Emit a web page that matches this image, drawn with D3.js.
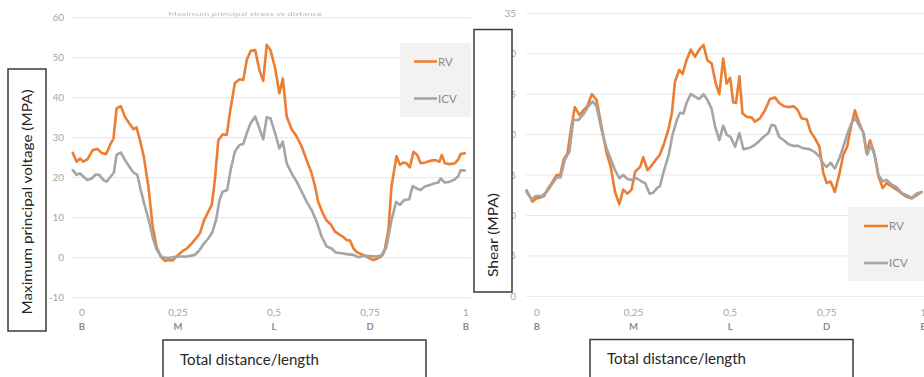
<!DOCTYPE html>
<html><head><meta charset="utf-8">
<script src="https://cdn.jsdelivr.net/npm/d3@7"></script>
<style>body{margin:0;background:#fff}svg{display:block}</style>
</head><body>
<script>
// ---------- data ----------
const xTickValues = [0, 0.25, 0.5, 0.75, 1];
const xTickNumbers = ["0", "0,25", "0,5", "0,75", "1"];
const xTickLetters = ["B", "M", "L", "D", "B"];
const leftYTicks = [-10, 0, 10, 20, 30, 40, 50, 60];
const rightYTicks = [0, 5, 10, 15, 20, 25, 30, 35];
const seriesNames = ["RV", "ICV"];

const leftRV = [[-0.024,26.2],[-0.014,24],[-0.005,24.8],[0.003,24],[0.014,24.6],[0.028,26.9],[0.040,27.2],[0.051,26.2],[0.063,25.9],[0.073,28.2],[0.082,29.8],[0.090,37.3],[0.101,37.9],[0.112,35.2],[0.123,33.6],[0.134,32.1],[0.142,32.6],[0.151,29.4],[0.161,25.2],[0.173,17.7],[0.184,7.8],[0.194,2.8],[0.205,0.3],[0.216,-0.8],[0.225,-0.6],[0.236,-0.7],[0.247,0.4],[0.260,1.5],[0.273,2.3],[0.286,3.6],[0.299,5.1],[0.307,6.1],[0.318,9.4],[0.329,11.5],[0.338,13.2],[0.346,19.4],[0.355,29.4],[0.366,30.8],[0.377,30.7],[0.385,36.1],[0.398,43.6],[0.410,44.6],[0.420,44.4],[0.429,49.4],[0.439,51.7],[0.451,51.9],[0.462,46.9],[0.472,44.2],[0.481,53.2],[0.491,51.9],[0.503,47.3],[0.514,41.1],[0.523,44.8],[0.533,35.3],[0.546,32.1],[0.559,30.3],[0.572,27.8],[0.585,24.4],[0.598,21.1],[0.607,17.8],[0.615,14],[0.627,11.1],[0.637,9.3],[0.648,8.3],[0.659,6.5],[0.672,5.7],[0.682,5.1],[0.689,4.4],[0.698,4.3],[0.707,2.3],[0.717,1.3],[0.728,0.9],[0.741,0.3],[0.750,-0.2],[0.759,-0.6],[0.769,-0.2],[0.780,0.4],[0.789,2.3],[0.798,6.9],[0.806,17.8],[0.819,25.4],[0.828,23.2],[0.837,23.8],[0.845,23.6],[0.854,22.6],[0.863,26.5],[0.873,25.7],[0.882,23.6],[0.893,23.8],[0.906,24.2],[0.919,24.4],[0.931,24],[0.937,25.7],[0.945,23.6],[0.958,23.4],[0.971,23.6],[0.980,24.6],[0.986,25.9],[0.997,26.1]];

const leftICV = [[-0.024,21.9],[-0.014,20.7],[-0.005,21.1],[0.003,20.3],[0.014,19.4],[0.025,19.8],[0.036,20.8],[0.045,20.7],[0.056,19.4],[0.064,19],[0.075,20.3],[0.083,21.3],[0.090,25.7],[0.101,26.3],[0.112,24.4],[0.123,22.8],[0.134,21.3],[0.144,20.7],[0.153,16.9],[0.164,12.8],[0.174,9.4],[0.184,5.1],[0.194,2.1],[0.205,0.4],[0.216,0],[0.229,0],[0.247,0.3],[0.273,0.3],[0.294,0.7],[0.306,1.9],[0.318,3.6],[0.329,4.8],[0.340,6.5],[0.349,9.4],[0.358,14.4],[0.366,16.5],[0.378,16.9],[0.387,21.9],[0.398,26.5],[0.410,28.2],[0.420,28.4],[0.429,31.1],[0.439,33.6],[0.451,35.3],[0.462,32.3],[0.472,29.6],[0.481,35.1],[0.491,34.8],[0.503,31.1],[0.514,27.3],[0.523,29],[0.533,23.6],[0.546,21.1],[0.559,19],[0.572,16.5],[0.585,14],[0.598,11.9],[0.611,9],[0.624,5.3],[0.637,2.8],[0.650,2.3],[0.661,1.3],[0.676,1.1],[0.689,0.9],[0.707,0.7],[0.720,0.1],[0.733,0.5],[0.750,0.4],[0.767,0.3],[0.783,0.7],[0.793,2.8],[0.806,9.4],[0.818,14],[0.828,13.2],[0.839,14.4],[0.852,14.6],[0.861,17.9],[0.872,17.3],[0.882,16.9],[0.893,17.8],[0.906,18.2],[0.919,18.6],[0.928,18.8],[0.934,19.8],[0.945,18.8],[0.958,19],[0.971,19.6],[0.980,20.4],[0.986,21.9],[0.997,21.8]];

const rightRV = [[-0.027,13.1],[-0.018,12.3],[-0.012,11.7],[-0.003,12.1],[0.008,12.2],[0.018,12.4],[0.027,13.2],[0.038,14],[0.051,15],[0.060,15],[0.069,16.9],[0.079,17.7],[0.087,20.4],[0.098,23.4],[0.110,22.4],[0.120,23],[0.130,23.5],[0.142,25],[0.154,24.3],[0.167,21],[0.180,17.7],[0.191,16],[0.202,12.9],[0.213,11.4],[0.223,13.2],[0.234,12.7],[0.245,13.2],[0.254,15.4],[0.267,16],[0.275,17.2],[0.286,15.6],[0.297,16.2],[0.308,16.9],[0.318,17.5],[0.329,18.9],[0.340,20.6],[0.349,22.6],[0.357,26.5],[0.368,28],[0.377,27.5],[0.387,29.2],[0.398,30.5],[0.409,29.6],[0.420,30.5],[0.431,31.1],[0.441,29.2],[0.452,28.8],[0.463,26.3],[0.472,25],[0.482,29.4],[0.491,26.3],[0.500,27],[0.508,24],[0.515,23.9],[0.524,27.2],[0.532,22.6],[0.543,22.2],[0.556,22.1],[0.564,21.6],[0.577,22],[0.590,23],[0.603,24.4],[0.616,24.6],[0.627,23.9],[0.639,23.5],[0.651,23.4],[0.664,23.5],[0.674,23.1],[0.685,22],[0.698,21.9],[0.708,20.4],[0.720,19.5],[0.731,18.5],[0.741,15.3],[0.750,14],[0.760,14.2],[0.771,12.9],[0.783,15.2],[0.793,17.5],[0.803,18.5],[0.812,20.8],[0.823,23],[0.834,21.4],[0.845,20.2],[0.853,17.7],[0.862,19.3],[0.872,17.9],[0.884,14.8],[0.895,13.4],[0.905,14],[0.918,13.6],[0.931,13.2],[0.944,12.7],[0.957,12.3],[0.970,12.1],[0.983,12.5],[0.996,12.9]];

const rightICV = [[-0.027,12.9],[-0.014,12],[-0.003,12.4],[0.012,12.4],[0.025,12.9],[0.038,13.8],[0.051,14.7],[0.061,14.7],[0.072,16.9],[0.084,17.9],[0.094,21.8],[0.107,21.8],[0.120,22.5],[0.133,23.5],[0.144,24.1],[0.154,23.5],[0.167,20.6],[0.180,18.3],[0.193,16.7],[0.202,15.6],[0.213,14.6],[0.223,15],[0.234,14.5],[0.245,14.4],[0.258,14.6],[0.271,14.2],[0.280,14],[0.291,12.7],[0.301,12.8],[0.311,13.4],[0.318,13.6],[0.329,15.6],[0.340,17.3],[0.351,20],[0.362,21.8],[0.370,22.7],[0.379,22.6],[0.387,23.9],[0.398,25],[0.409,24.7],[0.420,24.4],[0.431,25],[0.441,24.3],[0.452,23.2],[0.461,21],[0.472,19.3],[0.482,21.1],[0.491,20],[0.501,19.7],[0.513,18.5],[0.524,20.2],[0.534,18.2],[0.547,18.3],[0.560,18.6],[0.573,19.1],[0.586,19.7],[0.599,20.2],[0.607,21.2],[0.616,21.1],[0.627,19.7],[0.639,19.3],[0.651,18.8],[0.664,18.6],[0.676,18.6],[0.689,18.3],[0.705,18.2],[0.717,17.9],[0.731,17.3],[0.741,16.4],[0.750,16],[0.760,16.5],[0.771,15.8],[0.783,17.1],[0.793,18.5],[0.803,20],[0.812,21.2],[0.823,22.1],[0.834,21.1],[0.845,20.2],[0.855,17.5],[0.864,18.7],[0.875,17.3],[0.884,15],[0.895,14.2],[0.905,14.4],[0.918,13.8],[0.931,13.5],[0.944,12.8],[0.957,12.5],[0.970,12.2],[0.983,12.7],[0.996,12.9]];

// ---------- drawing ----------
const W = 924, H = 377;
const COLORS = {RV: "#ED7D31", ICV: "#A5A5A5"};
const FONT = "Lato, 'Open Sans', sans-serif";

const svg = d3.select("body").append("svg").attr("width", W).attr("height", H)
  .style("font-family", FONT);
svg.append("rect").attr("width", W).attr("height", H).attr("fill", "#fff");
svg.append("defs").append("filter").attr("id", "soft")
  .append("feGaussianBlur").attr("stdDeviation", 0.7);

function drawChart(cfg) {
  const g = svg.append("g");
  const x = d3.scaleLinear().domain([0, 1]).range(cfg.xRange);
  const y = d3.scaleLinear().domain(cfg.yDomain).range(cfg.yRange);

  // gridlines
  g.append("g").selectAll("line").data(cfg.yTicks).join("line")
    .attr("x1", cfg.gridX[0]).attr("x2", cfg.gridX[1])
    .attr("y1", d => y(d)).attr("y2", d => y(d))
    .attr("stroke", "#e6e6e6").attr("stroke-width", 1);

  // y tick labels
  g.append("g").selectAll("text").data(cfg.yTicks).join("text")
    .attr("x", cfg.yLabelX).attr("y", d => y(d)).attr("dy", "0.35em")
    .attr("text-anchor", "end").attr("font-size", 10).attr("fill", "#a6a6a6")
    .text(d => d);

  // x tick labels
  g.append("g").selectAll("text").data(xTickValues).join("text")
    .attr("x", d => x(d)).attr("y", 316)
    .attr("text-anchor", "middle").attr("font-size", 10).attr("fill", "#a6a6a6")
    .text((d, i) => xTickNumbers[i]);
  g.append("g").selectAll("text").data(xTickValues).join("text")
    .attr("x", d => x(d)).attr("y", 330)
    .attr("text-anchor", "middle").attr("font-size", 9.5).attr("font-weight", "bold")
    .attr("fill", "#8c8c8c")
    .text((d, i) => xTickLetters[i]);

  // lines
  const line = d3.line().x(d => x(d[0])).y(d => y(d[1]));
  [["RV", cfg.rv], ["ICV", cfg.icv]].forEach(([name, data]) => {
    g.append("path").datum(data).attr("d", line)
      .attr("fill", "none").attr("stroke", COLORS[name])
      .attr("stroke-width", 2.6).attr("stroke-linejoin", "round").attr("stroke-linecap", "round");
  });

  // legend
  const L = cfg.legend;
  g.append("rect").attr("x", L.x).attr("y", L.y).attr("width", L.w).attr("height", L.h)
    .attr("fill", "#f2f2f2");
  seriesNames.forEach((name, i) => {
    const ly = L.rowY[i];
    g.append("line").attr("x1", L.lineX[0]).attr("x2", L.lineX[1])
      .attr("y1", ly).attr("y2", ly).attr("stroke", COLORS[name]).attr("stroke-width", 2.6);
    g.append("text").attr("x", L.lineX[1] + 1).attr("y", ly).attr("dy", "0.35em")
      .attr("font-size", 11.5).attr("fill", "#8a8a8a").text(name);
  });

  // y axis title box
  const B = cfg.yBox;
  g.append("rect").attr("x", B.x).attr("y", B.y).attr("width", B.w).attr("height", B.h)
    .attr("fill", "#fff").attr("stroke", "#3a3a3a").attr("stroke-width", 1.5);
  g.append("text").attr("transform", `translate(${B.tx},${B.ty}) rotate(-90)`)
    .attr("text-anchor", "middle").attr("dy", "0.35em")
    .attr("font-size", 14).attr("fill", "#262626")
    .attr("textLength", B.tl).attr("lengthAdjust", "spacingAndGlyphs")
    .text(cfg.yTitle);

  // x axis title box
  const X = cfg.xBox;
  g.append("rect").attr("x", X.x).attr("y", X.y).attr("width", X.w).attr("height", 60)
    .attr("fill", "#fff").attr("stroke", "#3a3a3a").attr("stroke-width", 1.5);
  g.append("text").attr("x", X.tx).attr("y", X.ty)
    .attr("font-size", 14.5).attr("fill", "#262626")
    .attr("textLength", 139).attr("lengthAdjust", "spacingAndGlyphs")
    .text("Total distance/length");
}

// left chart
drawChart({
  xRange: [82, 466], yDomain: [-10, 60], yRange: [297.7, 17.7],
  yTicks: leftYTicks, gridX: [72, 471], yLabelX: 64,
  rv: leftRV, icv: leftICV,
  legend: {x: 400, y: 43, w: 71, h: 74, rowY: [61.5, 98.5], lineX: [414, 437]},
  yBox: {x: 8, y: 69, w: 38, h: 262, tx: 27, ty: 202, tl: 225},
  yTitle: "Maximum principal voltage (MPA)",
  xBox: {x: 163, y: 340, w: 263, tx: 180, ty: 365}
});

// faint chart title on left chart (illegible in source)
svg.append("text").attr("x", 245).attr("y", 16).attr("text-anchor", "middle")
  .attr("font-size", 6.5).attr("fill", "#bdbdbd").attr("filter", "url(#soft)")
  .attr("textLength", 154).attr("lengthAdjust", "spacingAndGlyphs")
  .text("Maximum principal stress vs distance");

// right chart
drawChart({
  xRange: [537, 923.3], yDomain: [0, 35], yRange: [296.3, 13.3],
  yTicks: rightYTicks, gridX: [526, 924], yLabelX: 516,
  rv: rightRV, icv: rightICV,
  legend: {x: 848, y: 207, w: 80, h: 74, rowY: [226, 263], lineX: [864, 888]},
  yBox: {x: 474, y: 29.5, w: 38, h: 262.5, tx: 493, ty: 235, tl: 84},
  yTitle: "Shear (MPA)",
  xBox: {x: 590, y: 339.5, w: 263, tx: 607, ty: 364}
});
</script>
</body></html>
